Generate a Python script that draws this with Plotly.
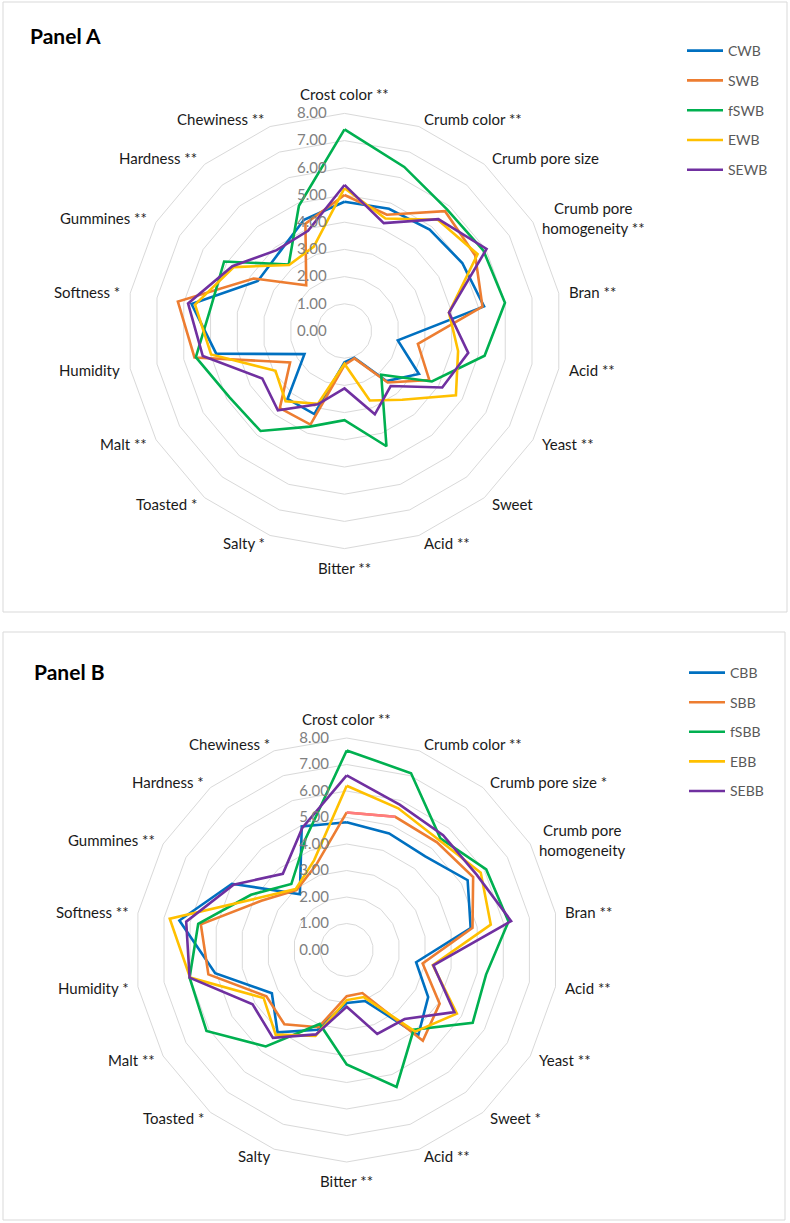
import math
import plotly.graph_objects as go

# ---------------- data ----------------
cats_a = ["Crost color **", "Crumb color **", "Crumb pore size", "Crumb pore<br>homogeneity **",
          "Bran **", "Acid **", "Yeast **", "Sweet", "Acid ** ", "Bitter **", "Salty *",
          "Toasted *", "Malt **", "Humidity", "Softness *", "Gummines **", "Hardness **",
          "Chewiness **"]
cats_b = ["Crost color **", "Crumb color **", "Crumb pore size *", "Crumb pore<br>homogeneity",
          "Bran **", "Acid **", "Yeast **", "Sweet *", "Acid ** ", "Bitter **", "Salty",
          "Toasted *", "Malt **", "Humidity *", "Softness **", "Gummines **", "Hardness *",
          "Chewiness *"]

names_a = ["CWB", "SWB", "fSWB", "EWB", "SEWB"]
names_b = ["CBB", "SBB", "fSBB", "EBB", "SEBB"]

CWB  = [4.75, 4.78, 4.87, 5.00, 5.21, 1.99, 3.16, 2.40, 1.05, 1.15, 3.25, 3.26, 1.70, 4.79, 5.71, 3.68, 3.75, 4.35]
SWB  = [5.00, 4.55, 5.75, 5.55, 5.15, 2.74, 3.60, 2.47, 1.07, 1.25, 3.66, 3.70, 2.31, 5.60, 6.22, 3.86, 2.19, 4.20]
fSWB = [7.41, 6.42, 5.85, 5.90, 5.99, 5.23, 3.71, 2.10, 4.51, 3.28, 3.74, 4.80, 4.88, 5.55, 4.99, 5.11, 3.19, 4.90]
EWB  = [5.25, 4.40, 5.34, 5.65, 3.90, 4.24, 4.73, 3.30, 2.72, 1.21, 2.85, 3.37, 2.93, 4.98, 5.58, 4.70, 3.17, 3.30]
SEWB = [5.37, 4.22, 5.37, 6.03, 3.90, 4.62, 4.15, 2.64, 3.26, 2.11, 2.87, 3.81, 3.49, 5.29, 5.84, 4.76, 3.88, 3.92]

CBB  = [4.82, 4.68, 4.61, 5.27, 4.75, 2.66, 3.55, 4.20, 2.05, 2.00, 3.20, 4.06, 3.26, 5.04, 6.41, 5.00, 2.75, 4.96]
SBB  = [5.19, 5.35, 5.30, 5.51, 4.82, 2.91, 4.05, 4.47, 1.73, 1.74, 3.10, 3.66, 3.50, 5.30, 5.59, 3.72, 2.95, 3.40]
fSBB = [7.53, 7.10, 5.50, 6.08, 6.20, 5.34, 5.49, 3.93, 5.50, 4.32, 2.97, 4.75, 6.11, 6.02, 5.69, 4.17, 3.25, 4.50]
EBB  = [6.20, 5.69, 5.42, 5.84, 5.52, 3.30, 4.80, 4.02, 1.89, 1.89, 3.45, 4.17, 3.62, 6.00, 6.78, 3.90, 3.00, 3.60]
SEBB = [6.59, 5.84, 5.66, 5.67, 6.30, 3.32, 4.69, 3.40, 3.37, 2.14, 3.39, 4.33, 4.10, 6.02, 6.15, 4.93, 3.75, 4.90]

radial_ticks = [0, 1, 2, 3, 4, 5, 6, 7, 8]

colors = ["#0070C0", "#ED7D31", "#00B050", "#FFC000", "#7030A0"]
pink = "#FF7C80"

W, H = 790, 1223
FONT = "Lato, 'Open Sans', Arial, sans-serif"


def closed(seq):
    return list(seq) + [seq[0]]


fig = go.Figure()

series_a = [CWB, SWB, fSWB, EWB, SEWB]
series_b = [CBB, SBB, fSBB, EBB, SEBB]

for name, vals, col in zip(names_a, series_a, colors):
    fig.add_trace(go.Scatterpolar(
        r=closed(vals), theta=closed(cats_a), mode="lines", name=name,
        line=dict(color=col, width=2.6), subplot="polar", legend="legend",
        legendgroup=name, hoverinfo="skip"))

for name, vals, col in zip(names_b, series_b, colors):
    fig.add_trace(go.Scatterpolar(
        r=closed(vals), theta=closed(cats_b), mode="lines", name=name,
        line=dict(color=col, width=2.6), subplot="polar2", legend="legend2",
        legendgroup=name, hoverinfo="skip"))

# highlighted first segment of SBB (drawn in a lighter tone in the original)
fig.add_trace(go.Scatterpolar(
    r=SBB[0:2], theta=cats_b[0:2], mode="lines", showlegend=False,
    line=dict(color=pink, width=2.6), subplot="polar2", hoverinfo="skip"))


def px2x(p):
    return p / W


def px2y(p):
    return 1 - p / H


def polar_layout(cx, cy, R, cats):
    return dict(
        domain=dict(x=[px2x(cx - R), px2x(cx + R)], y=[px2y(cy + R), px2y(cy - R)]),
        bgcolor="white",
        gridshape="linear",
        radialaxis=dict(
            range=[0, 8], tickvals=radial_ticks,
            ticktext=[f"{v:.2f}" for v in radial_ticks],
            angle=90, tickangle=90, side="counterclockwise",
            showline=False, ticks="outside", ticklen=12, tickcolor="rgba(0,0,0,0)",
            gridcolor="#D9D9D9", gridwidth=1,
            tickfont=dict(family=FONT, size=15, color="#808080"),
        ),
        angularaxis=dict(
            type="category", categoryorder="array", categoryarray=cats,
            rotation=90, direction="clockwise",
            showgrid=False, showline=True, linecolor="#D9D9D9", linewidth=1,
            ticks="", showticklabels=False,
        ),
    )


def category_labels(cats, cx, cy, R, gap):
    """Category labels placed just outside the outer polygon (Excel-like placement)."""
    anns = []
    n = len(cats)
    for i, txt in enumerate(cats):
        ang = 2 * math.pi * i / n
        s, c = math.sin(ang), math.cos(ang)
        x = cx + (R + gap) * s
        y = cy - (R + gap) * c
        if abs(s) < 1e-6:
            xa = "center"
            ya = "bottom" if c > 0 else "top"
        else:
            xa = "left" if s > 0 else "right"
            ya = "middle"
        anns.append(dict(
            text=txt, xref="paper", yref="paper", x=px2x(x), y=px2y(y),
            xanchor=xa, yanchor=ya, align="center", showarrow=False,
            font=dict(family=FONT, size=15, color="#1a1a1a")))
    return anns


legend_common = dict(
    font=dict(family=FONT, size=14, color="#595959"),
    bgcolor="rgba(0,0,0,0)", borderwidth=0,
    traceorder="grouped", itemwidth=36,
    xanchor="left", yanchor="top",
)

annotations = [
    dict(text="<b>Panel A</b>", xref="paper", yref="paper", x=px2x(28), y=px2y(35),
         xanchor="left", yanchor="middle", showarrow=False,
         font=dict(family=FONT, size=21, color="black")),
    dict(text="<b>Panel B</b>", xref="paper", yref="paper", x=px2x(32), y=px2y(671),
         xanchor="left", yanchor="middle", showarrow=False,
         font=dict(family=FONT, size=21, color="black")),
]
annotations += category_labels(cats_a, 344.5, 331, 217.6, 8)
annotations += category_labels(cats_b, 346.7, 950, 212.0, 7.5)

fig.update_layout(
    width=W, height=H,
    margin=dict(l=0, r=0, t=0, b=0),
    paper_bgcolor="white", plot_bgcolor="white",
    font=dict(family=FONT),
    polar=polar_layout(344.5, 331, 217.6, cats_a),
    polar2=polar_layout(346.7, 950, 212.0, cats_b),
    legend=dict(x=px2x(682), y=px2y(35), tracegroupgap=8.6, **legend_common),
    legend2=dict(x=px2x(684), y=px2y(657), tracegroupgap=8.4, **legend_common),
    shapes=[
        dict(type="rect", xref="paper", yref="paper",
             x0=px2x(3), x1=px2x(787), y0=px2y(612), y1=px2y(2),
             line=dict(color="#D9D9D9", width=1), fillcolor="rgba(0,0,0,0)", layer="below"),
        dict(type="rect", xref="paper", yref="paper",
             x0=px2x(3), x1=px2x(785), y0=px2y(1220), y1=px2y(632),
             line=dict(color="#D9D9D9", width=1), fillcolor="rgba(0,0,0,0)", layer="below"),
    ],
    annotations=annotations,
)

fig.write_html("out.html")
